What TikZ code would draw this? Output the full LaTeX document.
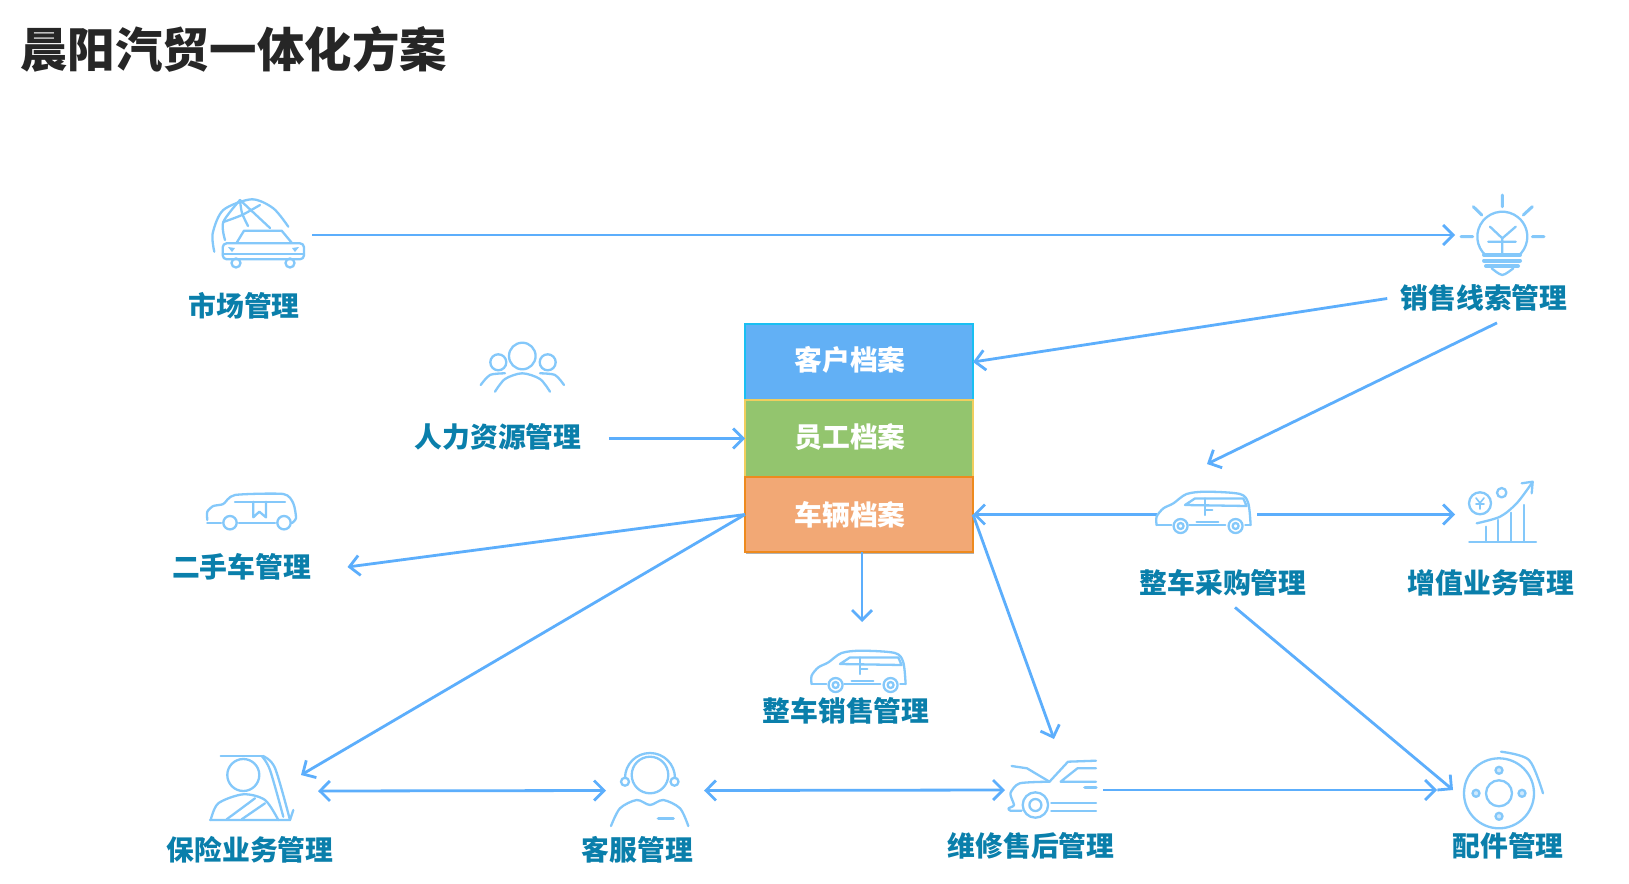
\documentclass[tikz,border=0pt]{standalone}
\usepackage{fontspec}
\setmainfont{Noto Sans CJK SC}
\usepackage{xcolor}
\usetikzlibrary{arrows.meta, positioning, shadows}
\definecolor{arrowblue}{HTML}{5CAEFC}
\definecolor{iconblue}{HTML}{84C8FA}
\definecolor{labelblue}{HTML}{0A7FAB}
\definecolor{archiveA}{HTML}{62B0F5}
\definecolor{archiveAline}{HTML}{19BFF2}
\definecolor{archiveB}{HTML}{93C56E}
\definecolor{archiveBline}{HTML}{F0CE5E}
\definecolor{archiveC}{HTML}{F2A875}
\definecolor{archiveCline}{HTML}{EE8A1E}

\begin{document}
\begin{tikzpicture}[
    x=0.5pt, y=-0.5pt,
    every node/.style={font=\bfseries},
    archive/.style={rectangle, line width=0.7pt, text=white, minimum width=114pt, font=\fontsize{13.9}{16}\bfseries, inner sep=0pt, outer sep=0pt, text height=12pt, text depth=2pt, drop shadow={shadow xshift=0.5pt, shadow yshift=-1.2pt, opacity=0.3, fill=black}},
    modlabel/.style={text=labelblue, font=\fontsize{13.9}{16}\bfseries, inner xsep=6.5pt, inner ysep=5pt, text height=12pt, text depth=2pt},
    iconbox/.style={inner sep=0pt, outer sep=0pt},
    glyph/.style={draw=iconblue, line width=1.15pt, line cap=round, line join=round},
    arrow/.style={-{Straight Barb[length=5pt, width=10pt, line width=1.4pt]}, line width=1.4pt, draw=arrowblue},
    twoway/.style={{Straight Barb[length=5pt, width=10pt, line width=1.4pt]}-{Straight Barb[length=5pt, width=10pt, line width=1.4pt]}, line width=1.4pt, draw=arrowblue},
    sedan/.pic={
        \draw[glyph] plot[smooth, tension=0.5] coordinates {(-46.7,12.3) (-46.7,4) (-40,-4.3) (-30,-9.3) (-16.7,-18.7) (3.3,-21) (36.7,-18.7) (45,-9.3) (47.3,12.3)};
        \draw[glyph] (-46.7,12.3) -- (-32,12.3) (-14,12.3) -- (22,12.3) (42,12.3) -- (47.3,12.3);
        \draw[glyph, fill=white] (-22.7,13.3) circle[radius=7] (32.3,13.3) circle[radius=7];
        \draw[glyph] (-22.7,13.3) circle[radius=3] (32.3,13.3) circle[radius=3];
        \draw[glyph] (-18.3,-7.7) -- (-8.3,-14.3) -- (40,-14.3) -- (43.3,-6.7) -- cycle;
        \draw[glyph] (1.7,-14.3) -- (1.7,2.3) (1.7,-2.7) -- (9,-2.7) (-6.7,9) -- (15,9);
    }
]
    \useasboundingbox[fill=white] (0,0) rectangle (1629,884);

    \node[anchor=west, inner sep=0pt, font=\fontsize{23.7}{26}\bfseries, text=black!85] (title) at (20,49) {晨阳汽贸一体化方案};

    % Central archive stack
    \node[archive, fill=archiveA, draw=archiveAline, minimum height=38pt] (custbox) at (859,362) {\raisebox{1pt}{客户档案}\kern9pt};
    \node[archive, fill=archiveB, draw=archiveBline, minimum height=38.5pt, below=0pt of custbox] (staffbox) {\raisebox{0.5pt}{员工档案}\kern9pt};
    \node[archive, fill=archiveC, draw=archiveCline, minimum height=37.5pt, below=0pt of staffbox] (vehiclebox) {\raisebox{-0.5pt}{车辆档案}\kern9pt};

    % Icon slots, the arrows end on their borders
    \node[iconbox, minimum width=54pt, minimum height=32pt] (marketicon) at (258,235) {};
    \node[iconbox, minimum width=47pt, minimum height=40pt] (clueicon) at (1502,235) {};
    \node[iconbox, minimum width=50pt, minimum height=50.5pt] (purchaseicon) at (1207,514.5) {};
    \node[iconbox, minimum width=48pt, minimum height=32pt] (addvalueicon) at (1503,514.5) {};
    \node[iconbox, minimum width=48pt, minimum height=50pt] (saleicon) at (862,672) {};
    \node[iconbox, minimum width=68pt, minimum height=40pt] (insureicon) at (250,791) {};
    \node[iconbox, minimum width=49pt, minimum height=40pt] (serviceicon) at (655,790.5) {};
    \node[iconbox, minimum width=49pt, minimum height=51pt] (repairicon) at (1054,790) {};
    \node[iconbox, minimum width=61pt, minimum height=40pt] (partsicon) at (1498,790) {};

    % Module names
    \node[modlabel] (marketlabel) at (244,306) {市场管理};
    \node[modlabel] (cluelabel) at (1484,298.5) {销售线索管理};
    \node[modlabel] (hrlabel) at (498,437) {人力资源管理};
    \node[modlabel] (usedlabel) at (241.6,567) {二手车管理};
    \node[modlabel] (purchaselabel) at (1223,583) {整车采购管理};
    \node[modlabel] (addvaluelabel) at (1491,583) {增值业务管理};
    \node[modlabel] (salelabel) at (846,711) {整车销售管理};
    \node[modlabel] (insurelabel) at (250,850) {保险业务管理};
    \node[modlabel] (servicelabel) at (637.5,850) {客服管理};
    \node[modlabel] (repairlabel) at (1031,846) {维修售后管理};
    \node[modlabel] (partslabel) at (1508,846) {配件管理};

    % Flow arrows
    \draw[arrow] (marketicon.east) -- (clueicon.west);
    \draw[arrow] (cluelabel.west) -- (custbox.east);
    \draw[arrow] ([xshift=6.5pt]cluelabel.south) -- (purchaseicon.north);
    \draw[arrow] ([xshift=7pt]hrlabel.east |- staffbox.west) -- (staffbox.west);
    \draw[arrow, line width=1.7pt] (purchaseicon.west) -- (vehiclebox.east);
    \draw[arrow] (purchaseicon.east) -- (addvalueicon.west);
    \draw[arrow] ([xshift=6pt]purchaselabel.south) -- ([xshift=8pt]partsicon.west);
    \draw[arrow] (vehiclebox.west) -- ([xshift=11.5pt]usedlabel.east);
    \draw[arrow] (vehiclebox.west) -- ([xshift=-8.5pt, yshift=8pt]insureicon.east);
    \draw[arrow] (vehiclebox.south -| saleicon.north) -- ([yshift=25pt]saleicon.center);
    \draw[arrow] (vehiclebox.east) -- (repairicon.north);
    \draw[twoway] (insureicon.east) -- (serviceicon.west);
    \draw[twoway] (serviceicon.east) -- (repairicon.west);
    \draw[arrow] (repairicon.east) -- (partsicon.west);

    % Market icon
    \draw[glyph] plot[smooth] coordinates {(214.3,251.7) (212.7,233.3) (223.3,210) (251.7,199.3) (273.3,208.3) (288.3,226.7)};
    \draw[glyph] plot[smooth] coordinates {(225,240) (223.3,222) (240,200)};
    \draw[glyph] plot[smooth] coordinates {(248,226) (242,213) (240,200)};
    \draw[glyph] plot[smooth] coordinates {(223.3,222) (242,215) (260,205)};
    \draw[glyph] (240,200) -- (270,228);
    \draw[glyph, fill=white] (236.7,242.7) -- (244,230.7) -- (281.7,230.7) -- (291.7,242.7);
    \draw[glyph, fill=white, rounded corners=2pt] (222.7,243.3) rectangle (304,259.3);
    \draw[glyph] (222.7,254) -- (304,254);
    \draw[glyph] (236,263) circle[radius=4.5] (290,263) circle[radius=4.5];
    \fill[iconblue] (228,247) -- (235,248) -- (232,252) -- cycle (299,247) -- (292,248) -- (295,252) -- cycle;

    % Clue icon
    \draw[glyph, line width=1.5pt] (1502.3,195) -- (1502.3,206.7) (1473.3,206.7) -- (1481.7,215) (1532.3,206.7) -- (1523.3,215) (1461,236.7) -- (1472.7,236.7) (1532.3,236.7) -- (1544,236.7);
    \draw[glyph] (1502.3,236.7) ++(130:25) arc[start angle=130, end angle=410, radius=25];
    \draw[glyph] (1490,226.7) -- (1502.3,238.3) -- (1515.7,226.7) (1502.3,238.3) -- (1502.3,255) (1488.3,241.7) -- (1515.7,241.7);
    \draw[glyph, line width=2pt] (1484,255) -- (1520,255) (1484,260.5) -- (1520,260.5) (1486,266) -- (1518,266);
    \draw[glyph] plot[smooth] coordinates {(1491.7,268.3) (1502.3,275) (1513.3,268.3)};

    % HR icon
    \draw[glyph] (522.3,356) circle[radius=13.3] (498.3,362.3) circle[radius=8] (547.7,362.3) circle[radius=8];
    \draw[glyph] plot[smooth] coordinates {(495,391.7) (505,379) (522.3,373.3) (540,379) (550,391.7)};
    \draw[glyph] plot[smooth] coordinates {(480.7,385) (490,375) (505,373.3)};
    \draw[glyph] plot[smooth] coordinates {(564,385) (555,375) (540,373.3)};

    % Used car icon
    \draw[glyph] plot[smooth, tension=0.4] coordinates {(207.3,520) (207.3,511.7) (213.3,506) (223.3,504) (235,495) (283.3,494) (293.3,503.3) (296,518) (292,523)};
    \draw[glyph] (207.3,522.7) -- (221,522.7) (239,522.7) -- (275,522.7);
    \draw[glyph, fill=white] (230,522.7) circle[radius=6.7] (284,522.7) circle[radius=6.7];
    \draw[glyph] (235,501.7) -- (285,501.7);
    \draw[glyph] (253.3,501.7) -- (253.3,517.3) -- (259.3,511.7) -- (266,517.3) -- (266,501.7);

    % Car icons
    \pic at (1203.3,512.7) {sedan};
    \pic at (858.3,671.7) {sedan};

    % Added value icon
    \draw[glyph] (1469.3,541.7) -- (1536,541.7);
    \draw[glyph] (1485.7,526.7) -- (1485.7,541.7) (1497.7,520) -- (1497.7,541.7) (1510.7,512.7) -- (1510.7,541.7) (1524.3,505) -- (1524.3,541.7);
    \draw[glyph] plot[smooth] coordinates {(1476.7,523.3) (1500,516.7) (1516.7,503.3) (1531.7,483.3)};
    \draw[glyph] (1521.7,483.3) -- (1532.7,481.7) -- (1531.7,493.3);
    \draw[glyph] (1480,503.3) circle[radius=11] (1501.7,492.7) circle[radius=4.7];
    \draw[glyph, line width=0.8pt] (1476,498) -- (1480,503) -- (1484,498) (1480,503) -- (1480,509) (1476,504) -- (1484,504);

    % Insurance icon
    \draw[glyph] (243.3,775) circle[radius=16];
    \draw[glyph] (220.7,756) -- (261.7,756);
    \draw[glyph] plot[smooth] coordinates {(261.7,756) (270,770) (283.3,816.7)};
    \draw[glyph] plot[smooth] coordinates {(263,756) (275,768) (290,820)};
    \draw[glyph] (210,820) -- (290,820) -- (293.3,810);
    \draw[glyph] plot[smooth] coordinates {(210.7,820) (218.3,803.3) (243.3,794.3) (265,800) (278.3,820)};
    \draw[glyph] (226.7,819.3) -- (255,798.3) (241.7,819.3) -- (265,803.3);

    % Service icon
    \draw[glyph] (650,775) circle[radius=18.3];
    \draw[glyph] (625,778) arc[start angle=180, end angle=360, radius=25];
    \draw[glyph, fill=white] (625,781.7) circle[radius=4] (674.5,781.7) circle[radius=4];
    \draw[glyph] plot[smooth] coordinates {(611,826) (620,808.3) (636.7,800) (650,805) (663.3,800) (680,808.3) (688.3,826)};
    \draw[glyph, line width=1.6pt] (658.3,818.3) -- (673.3,818.3);

    % Repair icon
    \draw[glyph] (1011.6,766) -- (1027,768.3) -- (1049.5,781.7) -- (1068,761.7) -- (1096,760.7);
    \draw[glyph] (1096,768.3) -- (1077.4,768.3) -- (1060.6,781.7) -- (1096,781.7);
    \draw[glyph, line width=1.6pt] (1084.8,787.7) -- (1096,787.7);
    \draw[glyph] plot[smooth, tension=0.4] coordinates {(1049.5,781.7) (1019.7,783.3) (1010.4,793.3) (1014,805) (1008.6,808.3) (1010.4,810.7) (1021.6,810.7)};
    \draw[glyph] (1035.4,805) circle[radius=12.7] (1035.4,805) circle[radius=6];
    \draw[glyph] (1051.3,803.3) -- (1096,803.3) (1051.3,811) -- (1096,811);

    % Parts icon
    \draw[glyph] (1499,793.3) circle[radius=35] (1499,793.3) circle[radius=13];
    \draw[glyph, fill=iconblue!40] (1499,770.3) circle[radius=3.5] (1499,816.3) circle[radius=3.5] (1476,793.3) circle[radius=3.5] (1522,793.3) circle[radius=3.5];
    \draw[glyph] plot[smooth] coordinates {(1501,751.7) (1529,760) (1543,793.3)};
\end{tikzpicture}
\end{document}
